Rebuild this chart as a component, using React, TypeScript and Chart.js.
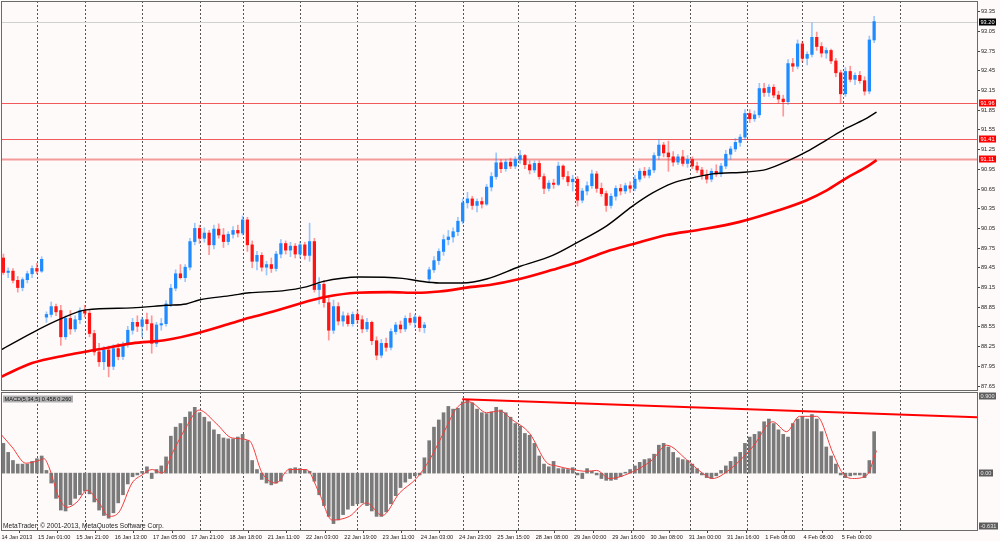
import React, { useEffect, useRef } from 'react';
import { Chart } from 'chart.js/auto';

// USDJPY H1 (one candle per 2 hours)
const opens = [
  89.60, 89.38, 89.40, 89.26, 89.15, 89.27, 89.36, 89.44, 89.40, 88.70,
  88.74, 88.86, 88.80, 88.40, 88.68, 88.52, 88.66, 88.80, 88.76, 88.45,
  88.17, 88.02, 88.20, 87.95, 88.22, 88.10, 88.28, 88.50, 88.62, 88.56,
  88.66, 88.60, 88.30, 88.58, 88.60, 88.90, 89.14, 89.36, 89.30, 89.46,
  89.85, 90.05, 89.90, 89.98, 89.80, 90.04, 89.95, 89.85, 89.96, 90.02,
  89.98, 90.18, 89.80, 89.55, 89.64, 89.46, 89.50, 89.44, 89.66, 89.82,
  89.72, 89.78, 89.66, 89.80, 89.64, 89.85, 89.12, 89.20, 88.92, 88.50,
  88.86, 88.64, 88.72, 88.60, 88.74, 88.66, 88.52, 88.62, 88.34, 88.12,
  88.30, 88.24, 88.48, 88.58, 88.52, 88.68, 88.62, 88.70, 88.54, 89.28,
  89.42, 89.56, 89.70, 89.88, 89.92, 90.00, 90.16, 90.44, 90.50, 90.40,
  90.46, 90.42, 90.68, 90.84, 91.05, 90.96, 91.06, 91.00, 91.10, 91.16,
  91.02, 90.94, 91.04, 90.84, 90.66, 90.74, 90.72, 91.00, 90.84, 90.76,
  90.80, 90.48, 90.62, 90.70, 90.88, 90.66, 90.58, 90.40, 90.54, 90.66,
  90.62, 90.70, 90.66, 90.80, 90.92, 90.86, 90.94, 91.16, 91.32, 91.20,
  91.14, 91.06, 91.14, 91.04, 91.10, 91.00, 90.94, 90.86, 90.80, 90.92,
  90.88, 91.00, 91.18, 91.26, 91.36, 91.44, 91.80, 91.72, 91.78, 92.18,
  92.12, 92.20, 92.08, 92.02, 91.98, 92.56, 92.52, 92.86, 92.64, 92.70,
  92.96, 92.82, 92.72, 92.76, 92.60, 92.42, 92.10, 92.44, 92.32, 92.38,
  92.30, 92.14, 92.92,
];
const highs = [
  89.66, 89.45, 89.44, 89.32, 89.30, 89.40, 89.48, 89.52, 89.62, 88.78,
  88.93, 88.90, 88.88, 88.72, 88.80, 88.72, 88.84, 88.88, 88.80, 88.50,
  88.30, 88.25, 88.26, 88.28, 88.30, 88.32, 88.56, 88.68, 88.72, 88.70,
  88.76, 88.72, 88.62, 88.68, 88.95, 89.20, 89.42, 89.50, 89.50, 89.90,
  90.13, 90.10, 90.06, 90.02, 90.10, 90.12, 90.05, 90.00, 90.08, 90.10,
  90.24, 90.22, 89.86, 89.70, 89.68, 89.55, 89.60, 89.70, 89.88, 89.86,
  89.84, 89.82, 89.85, 89.84, 90.13, 89.90, 89.30, 89.26, 89.00, 88.96,
  88.92, 88.78, 88.76, 88.78, 88.80, 88.72, 88.68, 88.64, 88.40, 88.36,
  88.38, 88.52, 88.62, 88.64, 88.72, 88.76, 88.74, 88.72, 88.62, 89.46,
  89.62, 89.74, 89.95, 90.02, 90.06, 90.22, 90.50, 90.60, 90.54, 90.50,
  90.52, 90.72, 90.90, 91.20, 91.10, 91.10, 91.12, 91.14, 91.24, 91.18,
  91.08, 91.08, 91.08, 90.88, 90.78, 90.80, 91.06, 91.02, 90.92, 90.86,
  90.84, 90.66, 90.76, 90.94, 90.92, 90.74, 90.62, 90.58, 90.70, 90.72,
  90.74, 90.76, 90.86, 90.96, 90.98, 90.98, 91.20, 91.40, 91.36, 91.38,
  91.22, 91.18, 91.24, 91.16, 91.14, 91.06, 90.98, 90.94, 90.96, 91.02,
  91.04, 91.24, 91.30, 91.42, 91.48, 91.86, 91.86, 91.84, 92.26, 92.26,
  92.24, 92.24, 92.14, 92.08, 92.62, 92.64, 92.92, 92.90, 92.74, 93.18,
  93.04, 92.88, 92.80, 92.78, 92.64, 92.46, 92.50, 92.52, 92.42, 92.44,
  92.36, 92.98, 93.28,
];
const lows = [
  89.35, 89.30, 89.22, 89.08, 89.10, 89.22, 89.30, 89.36, 89.38, 88.62,
  88.70, 88.72, 88.27, 88.36, 88.44, 88.48, 88.60, 88.70, 88.40, 88.12,
  87.95, 87.90, 87.79, 87.90, 88.05, 88.05, 88.24, 88.44, 88.48, 88.40,
  88.50, 88.15, 88.25, 88.50, 88.56, 88.86, 89.10, 89.28, 89.24, 89.42,
  89.80, 89.82, 89.84, 89.65, 89.74, 89.90, 89.76, 89.80, 89.90, 89.92,
  89.95, 89.70, 89.45, 89.42, 89.40, 89.34, 89.38, 89.40, 89.60, 89.66,
  89.62, 89.60, 89.60, 89.58, 89.55, 89.08, 88.90, 88.85, 88.35, 88.45,
  88.58, 88.56, 88.56, 88.56, 88.60, 88.46, 88.48, 88.28, 88.05, 88.08,
  88.18, 88.20, 88.44, 88.46, 88.48, 88.58, 88.54, 88.48, 88.46, 89.22,
  89.38, 89.50, 89.64, 89.80, 89.84, 89.94, 90.12, 90.36, 90.34, 90.30,
  90.36, 90.40, 90.62, 90.80, 90.90, 90.92, 90.96, 90.96, 91.04, 90.96,
  90.88, 90.90, 90.80, 90.58, 90.62, 90.66, 90.70, 90.80, 90.70, 90.62,
  90.39, 90.44, 90.56, 90.66, 90.60, 90.54, 90.31, 90.36, 90.48, 90.56,
  90.58, 90.60, 90.62, 90.76, 90.82, 90.82, 90.90, 91.10, 91.14, 90.92,
  91.00, 91.02, 91.00, 90.98, 90.96, 90.90, 90.80, 90.74, 90.76, 90.84,
  90.84, 90.96, 91.10, 91.22, 91.30, 91.40, 91.66, 91.68, 91.74, 92.06,
  92.06, 92.04, 91.96, 91.76, 91.94, 92.44, 92.48, 92.58, 92.54, 92.66,
  92.76, 92.66, 92.64, 92.56, 92.36, 91.96, 92.06, 92.28, 92.24, 92.26,
  92.08, 92.10, 92.88,
];
const closes = [
  89.38, 89.40, 89.26, 89.15, 89.27, 89.36, 89.44, 89.40, 89.58, 88.74,
  88.86, 88.78, 88.40, 88.68, 88.52, 88.66, 88.80, 88.76, 88.45, 88.17,
  88.02, 88.20, 87.95, 88.22, 88.10, 88.28, 88.50, 88.62, 88.56, 88.66,
  88.60, 88.30, 88.58, 88.60, 88.90, 89.14, 89.36, 89.30, 89.46, 89.85,
  90.05, 89.90, 89.98, 89.80, 90.04, 89.95, 89.85, 89.96, 90.02, 89.98,
  90.18, 89.80, 89.55, 89.64, 89.46, 89.50, 89.44, 89.66, 89.82, 89.72,
  89.78, 89.66, 89.80, 89.64, 89.85, 89.12, 89.20, 88.92, 88.50, 88.86,
  88.64, 88.72, 88.60, 88.74, 88.66, 88.52, 88.62, 88.34, 88.12, 88.30,
  88.24, 88.48, 88.58, 88.52, 88.68, 88.62, 88.70, 88.54, 88.58, 89.42,
  89.56, 89.70, 89.88, 89.92, 90.00, 90.16, 90.44, 90.50, 90.40, 90.46,
  90.42, 90.68, 90.84, 91.05, 90.96, 91.06, 91.00, 91.10, 91.16, 91.02,
  90.94, 91.04, 90.84, 90.66, 90.74, 90.72, 91.00, 90.84, 90.76, 90.80,
  90.48, 90.62, 90.70, 90.88, 90.66, 90.58, 90.40, 90.54, 90.66, 90.62,
  90.70, 90.66, 90.80, 90.92, 90.86, 90.94, 91.16, 91.32, 91.20, 91.14,
  91.06, 91.14, 91.04, 91.10, 91.00, 90.94, 90.86, 90.80, 90.92, 90.88,
  91.00, 91.18, 91.26, 91.36, 91.44, 91.80, 91.72, 91.78, 92.18, 92.12,
  92.20, 92.08, 92.02, 91.98, 92.56, 92.52, 92.86, 92.64, 92.70, 92.96,
  92.82, 92.72, 92.76, 92.60, 92.42, 92.10, 92.44, 92.32, 92.38, 92.30,
  92.14, 92.92, 93.20,
];

// moving averages, sampled along the curve (x = candle index)
const blackMaAt = [-0.5, 6, 11.6, 17.3, 26.9, 34, 38.2, 40.9, 47.8, 51.4, 58.3, 63.3, 66.7, 74.4, 83.4, 86.9, 91.1, 95.9, 101, 107.9, 114.8, 119.8, 126.1, 131.5, 135.7, 139.9, 143.4, 148.2, 155.4, 159.5, 164.3, 167.9, 172.1, 176.3, 180.5, 182.5];
const blackMa = [88.20, 88.46, 88.66, 88.81, 88.84, 88.88, 88.90, 88.96, 89.03, 89.07, 89.10, 89.16, 89.24, 89.31, 89.29, 89.25, 89.22, 89.22, 89.28, 89.47, 89.64, 89.83, 90.09, 90.39, 90.59, 90.74, 90.81, 90.88, 90.91, 90.95, 91.09, 91.22, 91.40, 91.58, 91.73, 91.82];
const redMaAt = [-0.5, 6, 13.1, 20, 26.9, 34, 40.9, 47.8, 51.4, 56.2, 64.6, 67.5, 73.8, 80.7, 86.3, 91.1, 98, 101.6, 107.9, 114.8, 119.8, 126.1, 131.5, 138.6, 145.5, 153.9, 162.2, 167.9, 172.1, 176.3, 180.5, 182.5];
const redMa = [87.79, 88.00, 88.12, 88.21, 88.30, 88.35, 88.46, 88.61, 88.69, 88.78, 88.96, 89.01, 89.07, 89.08, 89.07, 89.09, 89.16, 89.19, 89.28, 89.42, 89.53, 89.70, 89.81, 89.95, 90.03, 90.15, 90.33, 90.48, 90.63, 90.82, 90.99, 91.09];

const levels = [93.20, 91.96, 91.41, 91.11];
const priceTicks = [93.35, 93.05, 92.75, 92.45, 92.15, 91.85, 91.55, 91.25, 90.95, 90.65, 90.35, 90.05, 89.75, 89.45, 89.15, 88.85, 88.55, 88.25, 87.95, 87.65];

// MACD(5,34,5)
const macdHist = [
  0.33, 0.23, 0.14, 0.10, 0.10, 0.10, 0.13, 0.16, 0.19, 0.03,
  -0.11, -0.28, -0.41, -0.42, -0.35, -0.28, -0.24, -0.20, -0.23, -0.32,
  -0.41, -0.47, -0.50, -0.44, -0.33, -0.24, -0.12, -0.04, -0.02, 0.02,
  0.07, -0.06, 0.04, 0.08, 0.18, 0.41, 0.51, 0.55, 0.62, 0.68,
  0.73, 0.67, 0.62, 0.57, 0.48, 0.43, 0.39, 0.38, 0.38, 0.40,
  0.43, 0.36, 0.14, 0.04, -0.07, -0.11, -0.13, -0.11, -0.09, 0.00,
  0.05, 0.06, 0.05, 0.04, 0.02, -0.09, -0.24, -0.36, -0.48, -0.56,
  -0.52, -0.46, -0.40, -0.36, -0.34, -0.33, -0.36, -0.42, -0.48, -0.48,
  -0.43, -0.34, -0.25, -0.16, -0.10, -0.06, -0.03, -0.02, 0.17, 0.36,
  0.51, 0.59, 0.67, 0.74, 0.71, 0.72, 0.79, 0.81, 0.78, 0.71,
  0.67, 0.66, 0.68, 0.73, 0.70, 0.67, 0.62, 0.55, 0.52, 0.44,
  0.42, 0.33, 0.19, 0.10, 0.07, 0.13, 0.05, 0.05, 0.04, 0.06,
  -0.02, -0.06, 0.05, 0.02, -0.02, -0.06, -0.08, -0.08, -0.07, -0.04,
  0.01, 0.04, 0.08, 0.12, 0.15, 0.16, 0.21, 0.31, 0.33, 0.29,
  0.23, 0.17, 0.15, 0.14, 0.10, 0.05, -0.02, -0.05, -0.06, -0.03,
  0.03, 0.08, 0.13, 0.18, 0.23, 0.33, 0.40, 0.43, 0.46, 0.57,
  0.60, 0.55, 0.48, 0.43, 0.40, 0.55, 0.60, 0.63, 0.60, 0.65,
  0.60, 0.46, 0.29, 0.19, 0.10, -0.02, -0.05, -0.03, -0.02, -0.02,
  -0.05, 0.14, 0.46,
];
const signalAt = [-0.5, 1.8, 4.7, 7.4, 8.5, 9.5, 11.6, 13.3, 15.4, 17.5, 20, 22.1, 24.2, 26.9, 29, 31.1, 33.2, 35.3, 38.2, 40.9, 44.5, 47.8, 51.4, 54.1, 57, 59.7, 63.3, 66, 68.7, 72.3, 75.9, 79.2, 82.8, 86.3, 89, 92.6, 94.7, 97.4, 101, 103.7, 106.4, 110, 113.5, 115.6, 119, 121.9, 124, 126.7, 130.9, 135.7, 138.6, 142.8, 146.1, 148.2, 151.8, 156.6, 160.8, 163.7, 166.4, 170, 173.4, 175.4, 177.5, 180.5, 182.5];
const signal = [0.43, 0.29, 0.11, 0.14, 0.16, 0.07, -0.27, -0.38, -0.32, -0.19, -0.33, -0.48, -0.43, -0.11, -0.02, 0.04, 0.00, 0.22, 0.51, 0.70, 0.55, 0.39, 0.36, 0.00, -0.11, 0.04, 0.04, -0.22, -0.52, -0.48, -0.33, -0.47, -0.22, -0.06, 0.14, 0.51, 0.72, 0.79, 0.67, 0.69, 0.59, 0.44, 0.12, 0.08, 0.04, 0.02, 0.03, -0.06, 0.00, 0.15, 0.31, 0.15, 0.00, -0.06, 0.04, 0.29, 0.57, 0.46, 0.63, 0.63, 0.22, 0.00, -0.06, -0.02, 0.25];
const trendAt = [95.9, 203.5];
const trend = [0.82, 0.62];
const macdScale = [0.9, 0, -0.631];
const macdScaleText = ['0.900', '0.00', '-0.631'];
const macdTitle = 'MACD(5,34,5) 0.458 0.260';

const timeLabels = ['14 Jan 2013', '15 Jan 01:00', '15 Jan 21:00', '16 Jan 13:00', '17 Jan 05:00', '17 Jan 21:00', '18 Jan 18:00', '21 Jan 11:00', '22 Jan 03:00', '22 Jan 19:00', '23 Jan 11:00', '24 Jan 03:00', '24 Jan 23:00', '25 Jan 15:00', '28 Jan 08:00', '29 Jan 00:00', '29 Jan 16:00', '30 Jan 08:00', '31 Jan 00:00', '31 Jan 16:00', '1 Feb 08:00', '4 Feb 08:00', '5 Feb 00:00'];
const timeTickAt = [-0.4, 7.25, 15.25, 23.25, 31.25, 39.25, 47.25, 55.25, 63.25, 71.25, 79.25, 87.25, 95.25, 103.25, 111.25, 119.25, 127.25, 135.25, 143.25, 151.25, 159.25, 167.25, 175.25];
const dayLineAt = [7, 17, 29, 41, 50, 62, 74, 86, 96, 107.5, 119.5, 131.5, 143.5, 155.5, 167, 175.5, 187.5];

const FONT = "'Liberation Sans', Arial, sans-serif";
const FS = 5.6;
const BG = '#fffafa';
const X_MIN = -0.5, X_MAX = 203.5;

function tag(ctx: CanvasRenderingContext2D, text: string, x: number, y: number, bg: string, fg: string) {
  ctx.font = `${FS}px ${FONT}`;
  const w = Math.ceil(ctx.measureText(text).width) + 3;
  ctx.fillStyle = bg;
  ctx.fillRect(x, Math.round(y) - 3.5, w, 7);
  ctx.fillStyle = fg;
  ctx.textAlign = 'left';
  ctx.textBaseline = 'middle';
  ctx.fillText(text, x + 1.5, Math.round(y) + 0.3);
}

// dotted day separators + panel frame, shared by both panes
const gridPlugin = {
  id: 'mtGrid',
  beforeDatasetsDraw(chart: any) {
    const { ctx, chartArea: a, scales } = chart;
    ctx.save();
    ctx.strokeStyle = '#555';
    ctx.lineWidth = 1;
    ctx.setLineDash([2, 2]);
    for (const d of dayLineAt) {
      const px = Math.round(scales.x.getPixelForValue(d)) + 0.5;
      ctx.beginPath();
      ctx.moveTo(px, a.top);
      ctx.lineTo(px, a.bottom);
      ctx.stroke();
    }
    ctx.restore();
  },
  afterDraw(chart: any) {
    const { ctx, chartArea: a } = chart;
    ctx.save();
    ctx.strokeStyle = '#6a6a6a';
    ctx.lineWidth = 1;
    ctx.strokeRect(a.left + 0.5, a.top + 0.5, a.right - a.left, a.bottom - a.top);
    ctx.restore();
  },
};

const levelPlugin = {
  id: 'levels',
  beforeDatasetsDraw(chart: any) {
    const { ctx, chartArea: a, scales } = chart;
    ctx.save();
    ctx.setLineDash([]);
    levels.forEach((v, i) => {
      const y = Math.round(scales.y.getPixelForValue(v)) + 0.5;
      ctx.strokeStyle = i === 0 ? '#cfcfcf' : i === 3 ? '#f39a9a' : '#f05a5a';
      ctx.lineWidth = i === 3 ? 2 : 1;
      ctx.beginPath();
      ctx.moveTo(a.left, y);
      ctx.lineTo(a.right, y);
      ctx.stroke();
    });
    ctx.restore();
  },
  afterDraw(chart: any) {
    const { ctx, chartArea: a, scales } = chart;
    ctx.save();
    levels.forEach((v, i) => {
      tag(ctx, v.toFixed(2), a.right + 2, scales.y.getPixelForValue(v), i === 0 ? '#000' : '#ff0000', '#fff');
    });
    ctx.restore();
  },
};

const macdPlugin = {
  id: 'macdText',
  afterDraw(chart: any) {
    const { ctx, chartArea: a, scales } = chart;
    ctx.save();
    macdScale.forEach((v, i) => {
      const y = Math.min(Math.max(scales.y.getPixelForValue(v), a.top + 4), a.bottom - 4);
      tag(ctx, macdScaleText[i], a.right + 2, y, '#5c5c5c', '#e8e8e8');
    });
    tag(ctx, macdTitle, a.left + 2, a.top + 6.5, '#b0b0b0', '#111');
    ctx.font = `6.6px ${FONT}`;
    ctx.fillStyle = '#222';
    ctx.textBaseline = 'middle';
    ctx.fillText('MetaTrader, \u00a9 2001-2013, MetaQuotes Software Corp.', a.left + 2, a.bottom - 3.5);
    ctx.restore();
  },
};

const UP = '#1f8bff', DOWN = '#ff1414';
const UP_WICK = 'rgba(31,139,255,0.45)', DOWN_WICK = 'rgba(255,30,30,0.45)';
const isUp = (i: number | undefined) => i == null || closes[i] >= opens[i];

export default function App() {
  const mainRef = useRef<HTMLCanvasElement>(null);
  const macdRef = useRef<HTMLCanvasElement>(null);

  useEffect(() => {
    if (!mainRef.current || !macdRef.current) return;
    const font = { family: FONT, size: FS };
    const idx = closes.map((_, i) => i);

    const main = new Chart(mainRef.current, {
      type: 'bar',
      data: {
        datasets: [
          {
            type: 'line', data: blackMaAt.map((x, i) => ({ x, y: blackMa[i] })),
            borderColor: '#000', borderWidth: 1.4, pointRadius: 0, cubicInterpolationMode: 'monotone', order: 0,
          },
          {
            type: 'line', data: redMaAt.map((x, i) => ({ x, y: redMa[i] })),
            borderColor: '#ff0000', borderWidth: 2.6, pointRadius: 0, cubicInterpolationMode: 'monotone', order: 1,
          },
          {
            type: 'bar', data: idx.map((i) => ({ x: i, y: [opens[i], closes[i]] })),
            backgroundColor: (c: any) => (isUp(c.dataIndex) ? UP : DOWN),
            barThickness: 2.6, minBarLength: 1, grouped: false, order: 2,
          },
          {
            type: 'bar', data: idx.map((i) => ({ x: i, y: [lows[i], highs[i]] })),
            backgroundColor: (c: any) => (isUp(c.dataIndex) ? UP_WICK : DOWN_WICK),
            barThickness: 1, grouped: false, order: 3,
          },
        ] as any,
      },
      options: {
        animation: false,
        responsive: true,
        maintainAspectRatio: false,
        layout: { padding: { left: 1, top: 1, bottom: 1, right: 0 } },
        plugins: { legend: { display: false }, tooltip: { enabled: false } },
        scales: {
          x: { type: 'linear', min: X_MIN, max: X_MAX, offset: false, display: false },
          y: {
            position: 'right', min: 87.59, max: 93.513,
            afterBuildTicks: (s: any) => { s.ticks = priceTicks.map((v) => ({ value: v })); },
            afterFit: (s: any) => { s.width = 23; s.paddingTop = 0; s.paddingBottom = 0; },
            ticks: { font, color: '#1a1a1a', padding: 1, autoSkip: false, callback: (v: any) => Number(v).toFixed(2) },
            grid: { drawOnChartArea: false, tickLength: 3, color: '#444' },
            border: { display: false },
          },
        },
      } as any,
      plugins: [gridPlugin, levelPlugin],
    });

    const macd = new Chart(macdRef.current, {
      type: 'bar',
      data: {
        datasets: [
          {
            type: 'line', data: trendAt.map((x, i) => ({ x, y: trend[i] })),
            borderColor: '#ff0000', borderWidth: 2, pointRadius: 0, order: 0,
          },
          {
            type: 'line', data: signalAt.map((x, i) => ({ x, y: signal[i] })),
            borderColor: '#f23c3c', borderWidth: 1, pointRadius: 0, cubicInterpolationMode: 'monotone', order: 1,
          },
          {
            type: 'bar', data: macdHist.map((v, i) => ({ x: i, y: v })),
            backgroundColor: '#7a7a7a', barThickness: 3, order: 2,
          },
        ] as any,
      },
      options: {
        animation: false,
        responsive: true,
        maintainAspectRatio: false,
        layout: { padding: { left: 1, top: 1, bottom: 0, right: 0 } },
        plugins: { legend: { display: false }, tooltip: { enabled: false } },
        scales: {
          x: {
            type: 'linear', min: X_MIN, max: X_MAX, offset: false, position: 'bottom',
            afterBuildTicks: (s: any) => { s.ticks = timeTickAt.map((v) => ({ value: v })); },
            afterFit: (s: any) => { s.height = 11; s.paddingLeft = 0; s.paddingRight = 0; },
            ticks: {
              font, color: '#1a1a1a', padding: 1, autoSkip: false, maxRotation: 0, minRotation: 0, align: 'start',
              callback: (_v: any, i: number) => timeLabels[i],
            },
            grid: { drawOnChartArea: false, tickLength: 3, color: '#444' },
            border: { display: false },
          },
          y: {
            position: 'right', min: -0.631, max: 0.9,
            afterFit: (s: any) => { s.width = 23; },
            ticks: { display: false },
            grid: { display: false },
            border: { display: false },
          },
        },
      } as any,
      plugins: [gridPlugin, macdPlugin],
    });

    return () => { main.destroy(); macd.destroy(); };
  }, []);

  return (
    <div style={{ position: 'fixed', left: 0, top: 0, width: 1000, height: 541, background: BG }}>
      <div style={{ position: 'absolute', left: 0, top: 0, width: 1000, height: 391 }}>
        <canvas ref={mainRef}></canvas>
      </div>
      <div style={{ position: 'absolute', left: 0, top: 391, width: 1000, height: 150 }}>
        <canvas ref={macdRef}></canvas>
      </div>
    </div>
  );
}
